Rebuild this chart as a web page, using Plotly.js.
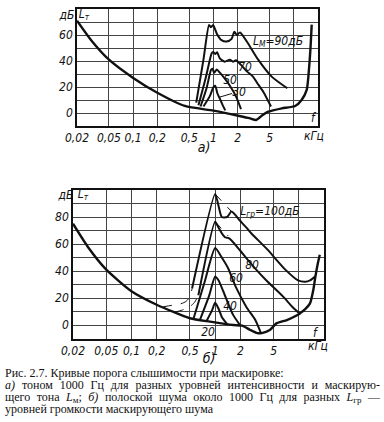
<!DOCTYPE html>
<html><head><meta charset="utf-8">
<script src="https://cdn.plot.ly/plotly-3.0.1.min.js"></script>
<style>
html,body{margin:0;padding:0;background:#fff}
#wrap{position:relative;width:384px;height:422px;overflow:hidden;background:#fff}
.chart{position:absolute;left:0;top:0;width:384px;height:422px}
#overlay{position:absolute;left:0;top:0;width:384px;height:422px;pointer-events:none}
.lbl{position:absolute;transform:translate(-50%,-50%);white-space:nowrap;color:#111;font-style:italic;
  font-family:'Liberation Sans Narrow','DejaVu Sans Condensed','Liberation Sans',sans-serif;line-height:1}
.lbl sub{font-size:70%;vertical-align:-0.25em}
.cap{position:absolute;left:5px;color:#111;font-family:'Liberation Serif','DejaVu Serif',serif;font-size:12px;line-height:14px;height:14px}
.cap.just{width:375px;text-align:justify;text-align-last:justify}
.cap sub{font-size:75%;vertical-align:-0.2em;line-height:0}
</style>
</head><body><div id="wrap"><div id="chartA" class="chart"></div><div id="chartB" class="chart"></div><div id="overlay"></div></div>
<script>
// ---- axis ticks ----
const freqTicks = [0.02, 0.05, 0.1, 0.2, 0.5, 1, 2, 5, 10];
const freqTickText = ['0,02', '0,05', '0,1', '0,2', '0,5', '1', '2', '5', ' '];
const aLevelTicks = [-10, 0, 10, 20, 30, 40, 50, 60, 70, 80];
const aLevelText = [' ', '0', ' ', '20', ' ', '40', ' ', '60', ' ', ' '];
const bLevelTicks = [-10, 0, 10, 20, 30, 40, 50, 60, 70, 80, 90, 100];
const bLevelText = [' ', '0', ' ', '20', ' ', '40', ' ', '60', ' ', '80', ' ', ' '];

// ---- (a) tone masking: threshold in quiet ----
const aThreshF = [0.02, 0.03, 0.05, 0.1, 0.2, 0.44, 1, 2.1, 2.8, 3.4, 4.1, 4.8, 5.5, 7.1, 10.4, 12.5, 14.5, 15.5, 16.2, 16.7];
const aThreshL = [71, 56, 41, 27, 15.6, 5.4, 1.8, -2.3, -4, -5.4, -1.5, 1, 2, 3.6, 5.4, 10, 18, 35, 52, 68];
// masked thresholds, masker level Lм = 90, 70, 50, 30 dB
const a90F = [0.61, 0.75, 0.88, 0.93, 0.99, 1.1, 1.26, 1.46, 1.68, 1.82, 1.95, 2.14, 2.6, 3.6, 5.3, 8.3];
const a90L = [8, 41, 67.7, 66, 67.7, 61, 56, 55, 57, 62.5, 60, 62, 55, 41, 28, 19];
const a70F = [0.65, 0.8, 0.95, 0.99, 1.05, 1.11, 1.2, 1.38, 1.6, 1.75, 1.9, 2.2, 2.6, 3.1, 3.6, 4.2, 5.2];
const a70L = [6, 27, 46, 47, 45.4, 46.7, 42, 39.5, 41, 39.5, 40.5, 37, 32, 28, 22, 16, 5];
const a50F = [0.69, 0.82, 0.93, 0.97, 1.02, 1.1, 1.2, 1.4, 1.6, 1.9, 2.2];
const a50L = [5, 19, 33, 34, 31, 33.5, 31, 26, 21, 13, 3];
const a30F = [0.75, 0.9, 1.0, 1.05, 1.12, 1.2, 1.3, 1.4];
const a30L = [5, 13, 20, 21, 15, 11, 6, 2];

// ---- (b) narrow-band noise masking ----
const bThreshF = [0.02, 0.03, 0.05, 0.1, 0.2, 0.5, 0.87, 1.65, 2.1, 2.6, 3.2, 3.6, 4.5, 5.4, 7.2, 9.4, 10.5, 12, 13.6, 14.9, 15.8, 16.8, 17.8];
const bThreshL = [75, 58, 41, 25, 15, 5, 2.5, 0, -0.5, -3.5, -6, -6, -3.7, 1.2, 3.7, 7, 9, 12, 16, 26, 36, 45, 52];
// noise loudness Lгр = 100, 80, 60, 40, 20 dB
const b100F = [0.53, 1.0, 1.1, 1.2, 1.39, 1.57, 2.0, 2.38, 2.7, 4.2, 6.9, 9.8, 12, 13.6, 15.8];
const b100L = [27, 97, 88, 80, 80, 84, 77, 72, 68, 56, 41, 33, 32, 33, 36];
const b100DashLoF = [0.24, 0.3, 0.38, 0.45, 0.5, 0.53];
const b100DashLoL = [13.5, 14.5, 15.5, 17.5, 21, 27];
const b100DashHiF = [1.0, 1.57];
const b100DashHiL = [97, 84];
const b80F = [0.63, 1.0, 1.1, 1.2, 1.31, 1.43, 1.55, 2.0, 2.4, 3.0, 4.1, 6.5, 8.5, 10.5];
const b80L = [22, 76.5, 72, 68, 65, 64.5, 63, 55, 49, 42, 33, 21, 13, 8];
const b80DashLoF = [0.33, 0.4, 0.5, 0.57, 0.63];
const b80DashLoL = [9.5, 11, 13.6, 17, 22];
const b80DashHiF = [1.0, 1.43];
const b80DashHiL = [76.5, 66];
const b60F = [0.55, 0.75, 1.0, 1.2, 1.43, 1.77, 2.38, 3.0, 3.5];
const b60L = [4.5, 32, 57, 50, 42, 28, 13, 4, -5.5];
const b40F = [0.66, 0.85, 1.0, 1.1, 1.25, 1.45, 1.64, 2.0];
const b40L = [4, 22, 36, 33, 25, 15, 7.5, -0.5];
const b20F = [0.79, 0.92, 1.0, 1.1, 1.2, 1.4];
const b20L = [3, 11, 16.5, 12, 6, 0.5];

// ---- text ----
const captionLines = [
  'Рис. 2.7. Кривые порога слышимости при маскировке:',
  '<i>а)</i> тоном 1000 Гц для разных уровней интенсивности и маскирую-',
  'щего тона <i>L</i><sub>м</sub>; <i>б)</i> полоской шума около 1000 Гц для разных <i>L</i><sub>гр</sub> —',
  'уровней громкости маскирующего шума'
];
const captionJustify = [false, true, true, false];
const labels = [
  [67, 15, 'дБ', 12], [84, 15, 'L<sub>т</sub>', 12], [278, 42, 'L<sub>М</sub>=90дБ', 12],
  [245, 67, '70', 12], [230, 80, '50', 12], [239, 92, '30', 12],
  [313, 118, 'f', 12], [314, 136, 'кГц', 12], [204, 147, 'а)', 14],
  [66, 195, 'дБ', 12], [83, 195, 'L<sub>т</sub>', 12], [270, 212, 'L<sub>гр</sub>=100дБ', 12],
  [252, 265, '80', 12], [236, 278, '60', 12], [230, 306, '40', 12], [208, 332, '20', 12],
  [315, 333, 'f', 12], [318, 346, 'кГц', 12], [209, 358, 'б)', 14]
];

const W = 384, H = 422;
const py = y => 1 - y / H;
const NARROW = 'Liberation Sans Narrow, DejaVu Sans Condensed, Liberation Sans, sans-serif';

function line(F, L, w, dash, shape) {
  const ln = {color: '#111', width: w, shape: shape};
  if (shape === 'spline') ln.smoothing = 0.6;
  if (dash) ln.dash = dash;
  return {x: F, y: L, mode: 'lines', line: ln};
}
function tracesA(shape) {
  return [
    line(aThreshF, aThreshL, 2.4, null, shape),
    line(a90F, a90L, 2, null, shape),
    line(a70F, a70L, 2, null, shape),
    line(a50F, a50L, 2, null, shape),
    line(a30F, a30L, 2, null, shape)
  ];
}
function tracesB(shape) {
  return [
    line(bThreshF, bThreshL, 2.4, null, shape),
    line(b100F, b100L, 2, null, shape),
    line(b100DashLoF, b100DashLoL, 1, 'dash', shape),
    line(b100DashHiF, b100DashHiL, 1, 'dash', 'linear'),
    line(b80F, b80L, 2, null, shape),
    line(b80DashLoF, b80DashLoL, 1, 'dash', shape),
    line(b80DashHiF, b80DashHiL, 1, 'dash', 'linear'),
    line(b60F, b60L, 2, null, shape),
    line(b40F, b40L, 2, null, shape),
    line(b20F, b20L, 2, null, shape)
  ];
}

const tickFont = {family: NARROW, size: 12, color: '#111', style: 'italic'};
function makeLayout(xdom, ydom, yrange, yvals, ytext) {
  return {
    width: W, height: H, margin: {l: 0, r: 0, t: 0, b: 0}, showlegend: false,
    paper_bgcolor: 'rgba(0,0,0,0)', plot_bgcolor: 'rgba(0,0,0,0)',
    xaxis: {type: 'log', range: [Math.log10(0.02), Math.log10(20)], domain: xdom,
      tickmode: 'array', tickvals: freqTicks, ticktext: freqTickText, tickfont: tickFont,
      showgrid: true, gridcolor: '#444', gridwidth: 1,
      showline: true, mirror: true, linecolor: '#111', linewidth: 1.5},
    yaxis: {range: yrange, domain: ydom,
      tickmode: 'array', tickvals: yvals, ticktext: ytext, tickfont: tickFont,
      showgrid: true, gridcolor: '#444', gridwidth: 1,
      showline: true, mirror: true, linecolor: '#111', linewidth: 1.5}
  };
}
const layoutA = () => makeLayout([77 / W, 318 / W], [py(126), py(9)], [-10, 80], aLevelTicks, aLevelText);
const layoutB = () => makeLayout([73 / W, 324 / W], [py(338.5), py(190)], [-10, 100], bLevelTicks, bLevelText);

function draw(id, tracesFn, layoutFn) {
  const ok = gd => gd.querySelectorAll('.xgrid').length > 0 &&
    Math.abs(gd._fullLayout.xaxis._offset - layoutFn().xaxis.domain[0] * W) < 2;
  const fallback = () => {
    const el = document.getElementById(id);
    try { Plotly.purge(el); } catch (e) {}
    return Plotly.newPlot(id, tracesFn('linear'), layoutFn(), {displayModeBar: false});
  };
  try {
    return Plotly.newPlot(id, tracesFn('spline'), layoutFn(), {displayModeBar: false})
      .then(gd => ok(gd) ? gd : fallback())
      .catch(fallback);
  } catch (e) { return fallback(); }
}
draw('chartA', tracesA, layoutA);
draw('chartB', tracesB, layoutB);

// ---- text overlay (real HTML text) ----
const ov = document.getElementById('overlay');
labels.forEach(([x, y, h, s]) => {
  const d = document.createElement('div');
  d.className = 'lbl';
  d.style.left = x + 'px'; d.style.top = y + 'px'; d.style.fontSize = s + 'px';
  d.innerHTML = h;
  ov.appendChild(d);
});
captionLines.forEach((t, i) => {
  const d = document.createElement('div');
  d.className = 'cap' + (captionJustify[i] ? ' just' : '');
  d.style.top = (373 + 12 * i - 7) + 'px';
  d.innerHTML = t;
  ov.appendChild(d);
});
const svgNS = 'http://www.w3.org/2000/svg';
const svg = document.createElementNS(svgNS, 'svg');
svg.setAttribute('width', W); svg.setAttribute('height', H);
svg.style.position = 'absolute'; svg.style.left = '0'; svg.style.top = '0';
const ld = document.createElementNS(svgNS, 'line');
ld.setAttribute('x1', 232); ld.setAttribute('y1', 93.5); ld.setAttribute('x2', 220); ld.setAttribute('y2', 97);
ld.setAttribute('stroke', '#111'); ld.setAttribute('stroke-width', 1);
svg.appendChild(ld);
ov.appendChild(svg);
</script></body></html>
